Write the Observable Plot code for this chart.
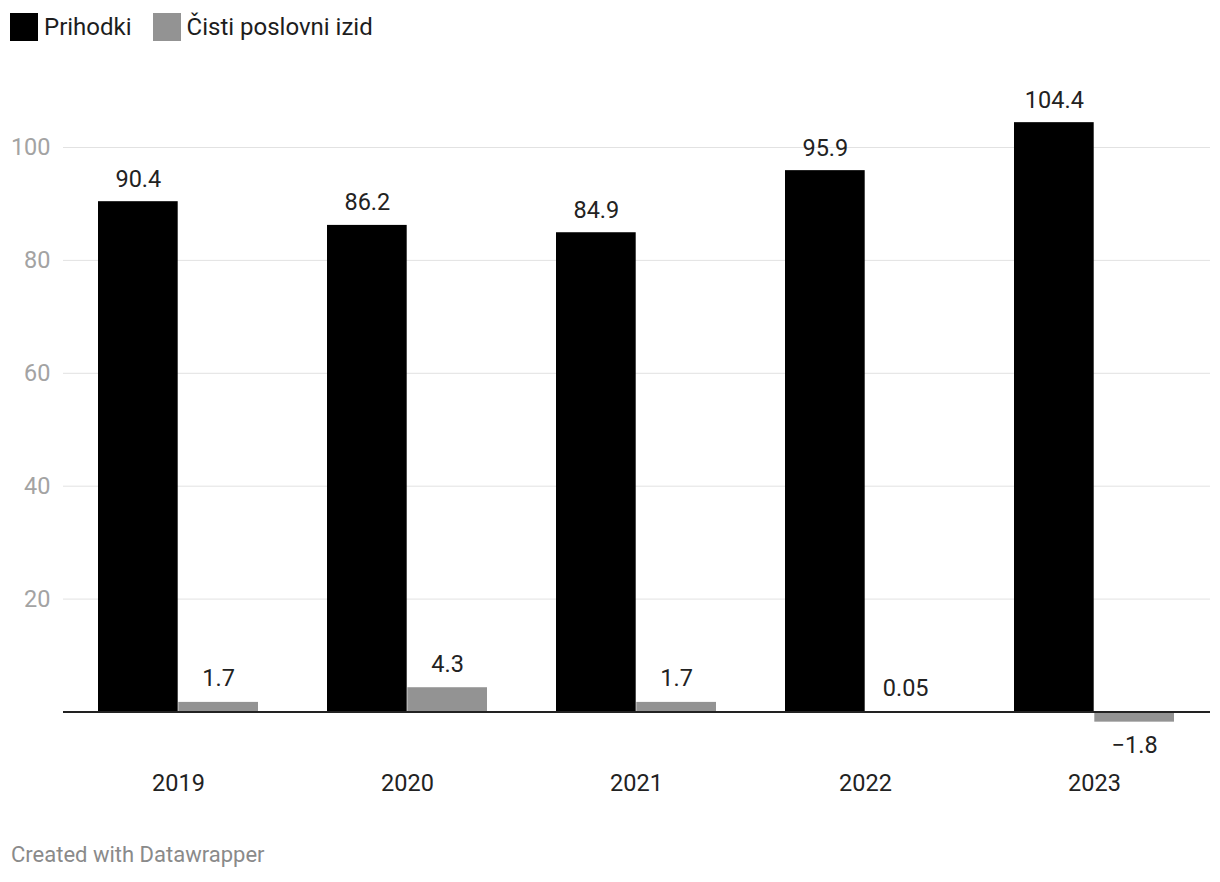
<!DOCTYPE html>
<html>
<head>
<meta charset="utf-8">
<script src="https://cdn.jsdelivr.net/npm/d3@7"></script>
<script src="https://cdn.jsdelivr.net/npm/@observablehq/plot@0.6"></script>
<style>
  html, body { margin: 0; padding: 0; background: #fff; }
  body { font-family: Roboto, "Noto Sans", sans-serif; width: 1220px; height: 882px; position: relative; overflow: hidden; }
  .legend { position: absolute; left: 10px; top: 13px; display: flex; align-items: center; font-size: 24px; color: #1d1d1d; }
  .legend .sw { width: 28px; height: 28px; display: inline-block; margin-right: 6px; }
  .legend .item { display: flex; align-items: center; margin-right: 21px; }
  #chart { position: absolute; left: 0; top: 55px; }
  .footer { position: absolute; left: 11px; top: 842px; font-size: 22px; color: #8a8a8a; }
</style>
</head>
<body>
<div class="legend" id="legend"></div>
<div id="chart"></div>
<div class="footer">Created with Datawrapper</div>
<script>
const years = ["2019", "2020", "2021", "2022", "2023"];
const prihodki = [90.4, 86.2, 84.9, 95.9, 104.4];
const izid = [1.7, 4.3, 1.7, 0.05, -1.8];
const seriesNames = ["Prihodki", "Čisti poslovni izid"];
const seriesColors = ["#000000", "#939393"];
const yTicks = [20, 40, 60, 80, 100];

const rowsA = years.map((y, i) => ({year: y, value: prihodki[i]}));
const rowsB = years.map((y, i) => ({year: y, value: izid[i]}));
const fmt = v => (v < 0 ? "\u2212" : "") + Math.abs(v);

// legend
const legend = document.getElementById("legend");
seriesNames.forEach((n, i) => {
  const it = document.createElement("span");
  it.className = "item";
  const sw = document.createElement("span");
  sw.className = "sw";
  sw.style.background = seriesColors[i];
  it.appendChild(sw);
  it.appendChild(document.createTextNode(n));
  legend.appendChild(it);
});

const half = 80.3;
const fs = 23.5;
const chart = Plot.plot({
  width: 1220,
  height: 765,
  marginLeft: 63,
  marginRight: 10,
  marginTop: 35.55,
  marginBottom: 85.92,
  style: {fontFamily: "Roboto, sans-serif", background: "#fff"},
  x: {domain: years, paddingInner: 0.3, paddingOuter: 0.15, label: null},
  y: {domain: [-4, 110], label: null},
  marks: [
    Plot.ruleY(yTicks, {stroke: "#e2e2e2", strokeWidth: 1}),
    Plot.axisY(yTicks, {tickSize: 0, tickPadding: 13, fontSize: fs, color: "#a3a3a3", label: null}),
    Plot.axisX({tickSize: 0, tickPadding: 40, fontSize: fs, color: "#222", label: null}),
    Plot.barY(rowsA, {x: "year", y: "value", fill: seriesColors[0], insetRight: half}),
    Plot.barY(rowsB, {x: "year", y: "value", fill: seriesColors[1], insetLeft: half}),
    Plot.ruleY([0], {stroke: "#222", strokeWidth: 2}),
    Plot.text(rowsA, {x: "year", y: "value", text: d => fmt(d.value), dx: -half / 2, dy: -15, lineAnchor: "bottom", fontSize: fs, fill: "#222"}),
    Plot.text(rowsB.filter(d => d.value >= 0), {x: "year", y: "value", text: d => fmt(d.value), dx: half / 2, dy: -16, lineAnchor: "bottom", fontSize: fs, fill: "#222"}),
    Plot.text(rowsB.filter(d => d.value < 0), {x: "year", y: "value", text: d => fmt(d.value), dx: half / 2, dy: 14, lineAnchor: "top", fontSize: fs, fill: "#222"})
  ]
});
document.getElementById("chart").appendChild(chart);
</script>
</body>
</html>
